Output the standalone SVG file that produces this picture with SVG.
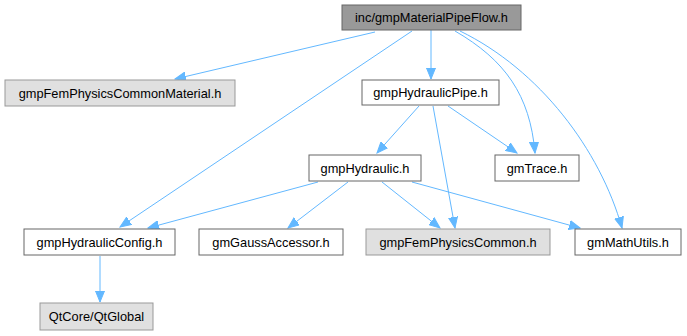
<svg xmlns="http://www.w3.org/2000/svg" width="687" height="336" viewBox="0 0 687 336">
<style>
.n rect{fill:#ffffff;stroke:#666666;stroke-width:1}
.g rect{fill:#e0e0e0;stroke:#999999;stroke-width:1}
.r rect{fill:#999999;stroke:#666666;stroke-width:1}
text{font-family:"Liberation Sans",Arial,sans-serif;font-size:12.8px;fill:#000000;text-anchor:middle}
.e path{fill:none;stroke:#63b8ff;stroke-width:1;marker-end:url(#a)}
</style>
<defs>
<marker id="a" markerUnits="userSpaceOnUse" markerWidth="12" markerHeight="10" refX="11" refY="5" orient="auto">
<path d="M0,0.5 L11,5 L0,9.5 z" fill="#63b8ff" stroke="#63b8ff" stroke-width="1"/>
</marker>
</defs>
<rect width="687" height="336" fill="#ffffff"/>
<g id="edges" class="e">
<path d="M375,32 L175,79"/>
<path d="M412,31 L120,227"/>
<path d="M431,30 L431,79"/>
<path d="M455,31 C505,60 530,95 535,153"/>
<path d="M460,31 C540,70 600,150 622,228"/>
<path d="M419,106 L377,153"/>
<path d="M448,106 L517,153"/>
<path d="M433,106 L455,228"/>
<path d="M318,182 L148,228"/>
<path d="M348,182 L288,228"/>
<path d="M382,182 L440,228"/>
<path d="M412,182 L580,228"/>
<path d="M100,256 L100,302"/>
</g>
<g id="root" class="r"><rect x="342" y="5" width="179" height="25"/><text x="431.5" y="22">inc/gmpMaterialPipeFlow.h</text></g>
<g id="material" class="g"><rect x="5" y="80" width="230" height="26"/><text x="120" y="97.5">gmpFemPhysicsCommonMaterial.h</text></g>
<g id="pipe" class="n"><rect x="362" y="80" width="137" height="25"/><text x="430.5" y="97">gmpHydraulicPipe.h</text></g>
<g id="hydraulic" class="n"><rect x="309" y="155" width="112" height="26"/><text x="365" y="172.5">gmpHydraulic.h</text></g>
<g id="trace" class="n"><rect x="495" y="155" width="84" height="26"/><text x="537" y="172.5">gmTrace.h</text></g>
<g id="config" class="n"><rect x="24" y="229" width="151" height="26"/><text x="99.5" y="246.5">gmpHydraulicConfig.h</text></g>
<g id="gauss" class="n"><rect x="199" y="229" width="144" height="26"/><text x="271" y="246.5">gmGaussAccessor.h</text></g>
<g id="femcommon" class="g"><rect x="366" y="229" width="184" height="26"/><text x="458" y="246.5">gmpFemPhysicsCommon.h</text></g>
<g id="mathutils" class="n"><rect x="575" y="229" width="106" height="26"/><text x="628" y="246.5">gmMathUtils.h</text></g>
<g id="qtglobal" class="g"><rect x="40" y="303" width="113" height="27"/><text x="96.5" y="321">QtCore/QtGlobal</text></g>
</svg>
